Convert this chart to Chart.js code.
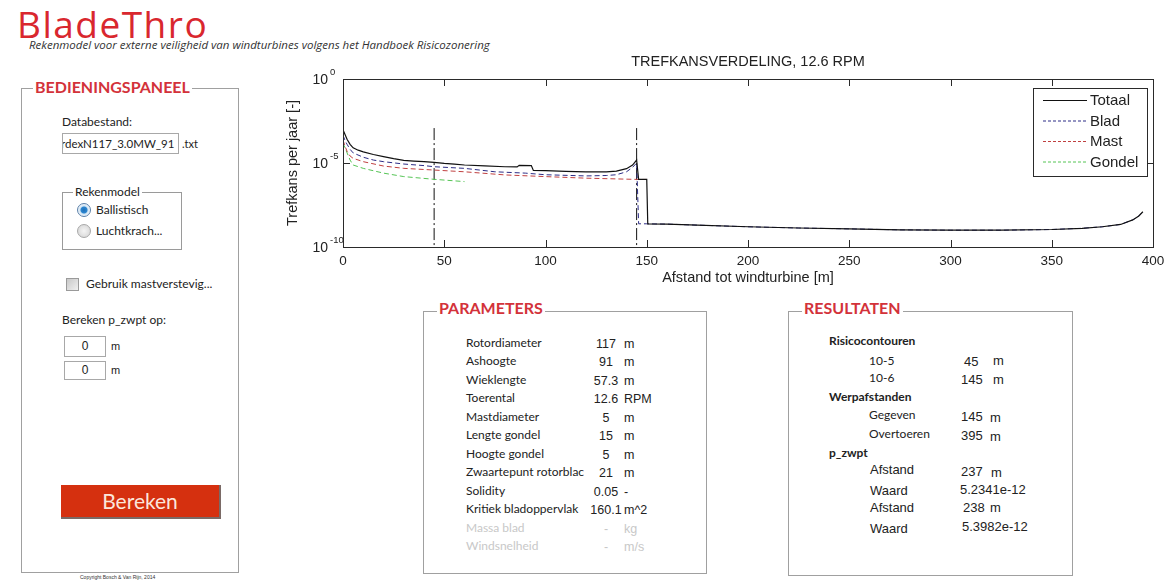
<!DOCTYPE html>
<html>
<head>
<meta charset="utf-8">
<title>BladeThro</title>
<script src="https://cdn.jsdelivr.net/npm/chart.js@4/dist/chart.umd.min.js"></script>
<style>
  body { margin: 0; width: 1175px; height: 580px; background: #fff; position: relative; overflow: hidden;
         font-family: Lato, 'Open Sans', sans-serif; color: #222; }
  .abs { position: absolute; white-space: nowrap; }
  .lbl { font-size: 12px; line-height: 16px; }
  .arial { font-family: 'Liberation Sans', Arial, sans-serif; }
  .panel { position: absolute; border: 1px solid #a0a0a0; }
  .ptitle { position: absolute; background: #fff; color: #d3323a; font-weight: bold; font-size: 16px;
            line-height: 18px; padding: 0 2px; }
  .box { position: absolute; border: 1px solid #a8a8a8; background: #fff; }
  #chartWrap { position: absolute; left: 280px; top: 40px; width: 895px; height: 250px; }
</style>
</head>
<body>

<div class="abs" style="left:17px;top:5px;font-size:37px;line-height:37px;letter-spacing:1.5px;color:#d9272e;font-family:'Open Sans',sans-serif;">BladeThro</div>
<div class="abs" style="left:29px;top:39px;font-size:11.5px;line-height:12px;font-style:italic;font-family:'Open Sans',sans-serif;color:#333;">Rekenmodel voor externe veiligheid van windturbines volgens het Handboek Risicozonering</div>

<!-- Bedieningspaneel -->
<div class="panel" style="left:21px;top:88px;width:216px;height:483px;"></div>
<div class="ptitle" style="left:33px;top:78px;">BEDIENINGSPANEEL</div>
<div class="abs lbl" style="left:62px;top:114px;">Databestand:</div>
<div class="box" style="left:62px;top:133px;width:115px;height:19px;overflow:hidden;">
  <div class="abs lbl" style="left:-2px;top:2px;font-size:11.5px;">rdexN117_3.0MW_91</div>
</div>
<div class="abs" style="left:182px;top:137px;font-size:11px;line-height:14px;">.txt</div>

<div class="box" style="left:62px;top:192px;width:118px;height:56px;border-color:#9a9a9a;"></div>
<div class="abs lbl" style="left:73px;top:184px;background:#fff;padding:0 2px;">Rekenmodel</div>
<div class="abs" style="left:77px;top:203px;width:12px;height:12px;border-radius:50%;border:1px solid #5a7fa8;background:radial-gradient(circle,#1e6fb8 0,#2b86d0 3px,#cfe3f3 4px,#eef5fb 6px);"></div>
<div class="abs lbl" style="left:96px;top:202px;">Ballistisch</div>
<div class="abs" style="left:77px;top:224px;width:12px;height:12px;border-radius:50%;border:1px solid #a8a8a8;background:radial-gradient(circle,#f4f4f4 0,#dcdcdc 6px);"></div>
<div class="abs lbl" style="left:96px;top:223px;">Luchtkrach...</div>

<div class="abs" style="left:66px;top:278px;width:11px;height:11px;border:1px solid #9a9a9a;background:linear-gradient(135deg,#c8c8c8,#f0f0f0);"></div>
<div class="abs lbl" style="left:86px;top:276px;">Gebruik mastverstevig...</div>

<div class="abs lbl" style="left:62px;top:312px;">Bereken p_zwpt op:</div>
<div class="box" style="left:64px;top:336px;width:40px;height:19px;"></div>
<div class="abs arial" style="left:64px;top:339px;width:42px;text-align:center;font-size:12px;line-height:14px;">0</div>
<div class="abs arial" style="left:111px;top:339px;font-size:11px;line-height:14px;">m</div>
<div class="box" style="left:64px;top:361px;width:40px;height:17px;"></div>
<div class="abs arial" style="left:64px;top:363px;width:42px;text-align:center;font-size:12px;line-height:14px;">0</div>
<div class="abs arial" style="left:111px;top:363px;font-size:11px;line-height:14px;">m</div>

<div class="abs" style="left:61px;top:485px;width:158px;height:32px;background:#d5300f;border-right:2px solid #7a6a66;border-bottom:2px solid #7a6a66;color:#fbe6dc;font-size:21px;line-height:32px;text-align:center;">Bereken</div>
<div class="abs arial" style="left:80px;top:573px;font-size:5px;line-height:8px;color:#333;">Copyright Bosch &amp; Van Rijn, 2014</div>

<!-- Parameters -->
<div class="panel" style="left:423px;top:311px;width:282px;height:261px;"></div>
<div class="ptitle" style="left:437px;top:299px;">PARAMETERS</div>
<div id="params"></div>

<!-- Resultaten -->
<div class="panel" style="left:788px;top:311px;width:283px;height:263px;"></div>
<div class="ptitle" style="left:802px;top:299px;">RESULTATEN</div>
<div id="results"></div>

<div id="chartWrap"><canvas id="chart" width="895" height="250"></canvas></div>

<script>
// ---- chart data (distance in m, probability per year) ----
const xTotaal = [0, 1, 2, 3.5, 5, 7.5, 10, 15, 20, 25, 30, 35, 40, 45, 50, 55, 60, 70, 80, 86, 87, 93, 94, 100, 110, 120, 130, 135, 140, 143, 145, 146, 150, 150.5, 160, 175, 200, 225, 250, 275, 300, 325, 350, 365, 375, 384, 390, 393, 395];
const yTotaal = [9.5e-4, 5.0e-4, 2.6e-4, 1.3e-4, 8.0e-5, 5.8e-5, 4.6e-5, 3.2e-5, 2.4e-5, 1.8e-5, 1.45e-5, 1.3e-5, 1.2e-5, 1.1e-5, 9.5e-6, 8.5e-6, 7.6e-6, 6.8e-6, 6.0e-6, 5.8e-6, 7.2e-6, 7.0e-6, 3.6e-6, 3.5e-6, 3.2e-6, 3.0e-6, 3.0e-6, 3.3e-6, 4.6e-6, 7.5e-6, 1.5e-5, 1.05e-6, 1.05e-6, 2.4e-9, 2.3e-9, 2.0e-9, 1.6e-9, 1.35e-9, 1.2e-9, 1.05e-9, 1.0e-9, 1.0e-9, 1.1e-9, 1.3e-9, 1.6e-9, 2.2e-9, 4.1e-9, 7.0e-9, 1.25e-8];

const xBlad = [0, 1, 2, 3.5, 5, 10, 15, 20, 30, 40, 45, 60, 75, 90, 100, 120, 130, 135, 140, 143, 145, 146, 150, 160, 175, 200, 225, 250, 275, 300, 325, 350, 365, 375, 384, 390, 393, 395];
const yBlad = [4.5e-4, 2.2e-4, 1.3e-4, 6.5e-5, 4.0e-5, 2.2e-5, 1.5e-5, 1.2e-5, 8.7e-6, 7.0e-6, 6.0e-6, 4.8e-6, 3.0e-6, 2.5e-6, 2.0e-6, 1.7e-6, 1.8e-6, 2.0e-6, 3.0e-6, 5.5e-6, 1.0e-5, 2.4e-9, 2.4e-9, 2.3e-9, 2.0e-9, 1.6e-9, 1.35e-9, 1.2e-9, 1.05e-9, 1.0e-9, 1.0e-9, 1.1e-9, 1.3e-9, 1.6e-9, 2.2e-9, 4.1e-9, 7.0e-9, 1.25e-8];

const xMast = [0, 1, 2, 3.5, 5, 10, 20, 30, 45, 60, 80, 100, 120, 146, 150];
const yMast = [2.3e-4, 1.0e-4, 5.0e-5, 2.6e-5, 1.9e-5, 1.2e-5, 6.6e-6, 4.8e-6, 3.8e-6, 3.0e-6, 1.95e-6, 1.55e-6, 1.25e-6, 1.05e-6, 1.05e-6];

const xGondel = [0, 1, 2, 3.5, 5, 10, 20, 30, 45, 60];
const yGondel = [1.5e-4, 8.0e-5, 4.0e-5, 1.5e-5, 7.6e-6, 4.8e-6, 2.5e-6, 1.55e-6, 1.07e-6, 7.8e-7];

// risk contours 10-5 and 10-6 (m), drawn as vertical dash-dot lines
const contourX = [45, 145];
const contourRange = [1.2e-3, 1e-10];

const yTicks = [1e-10, 1e-5, 1];
const chartTitle = 'TREFKANSVERDELING, 12.6 RPM';
const xTitle = 'Afstand tot windturbine [m]';
const yTitle = 'Trefkans per jaar [-]';

// ---- side panels ----
const paramLabels = ['Rotordiameter', 'Ashoogte', 'Wieklengte', 'Toerental', 'Mastdiameter', 'Lengte gondel', 'Hoogte gondel', 'Zwaartepunt rotorblac', 'Solidity', 'Kritiek bladoppervlak', 'Massa blad', 'Windsnelheid'];
const paramValues = ['117', '91', '57.3', '12.6', '5', '15', '5', '21', '0.05', '160.1', '-', '-'];
const paramUnits = ['m', 'm', 'm', 'RPM', 'm', 'm', 'm', 'm', '-', 'm^2', 'kg', 'm/s'];

function put(parent, text, left, centerY, style) {
  const d = document.createElement('div');
  d.className = 'abs';
  d.textContent = text;
  d.style.cssText = `left:${left}px;top:${centerY - 8}px;line-height:16px;` + (style || '');
  parent.appendChild(d);
  return d;
}

const params = document.getElementById('params');
paramLabels.forEach((label, i) => {
  const y = 343 + i * 18.45;
  const faded = i >= 10 ? 'color:#c8c8c8;' : '';
  put(params, label, 466, y, 'font-size:12px;' + faded);
  put(params, paramValues[i], 586, y + 1, "font-family:'Liberation Sans',Arial;font-size:12.5px;width:40px;text-align:center;" + faded);
  put(params, paramUnits[i], 624, y + 1, "font-family:'Liberation Sans',Arial;font-size:12.5px;" + faded);
});

const res = document.getElementById('results');
const bold = 'font-size:12px;font-weight:bold;';
const cal = 'font-size:12px;';
const ar = "font-family:'Liberation Sans',Arial;font-size:13px;";
put(res, 'Risicocontouren', 829, 341, bold);
put(res, '10-5', 869, 361, cal);  put(res, '45', 964, 362, ar);  put(res, 'm', 993, 361, ar);
put(res, '10-6', 869, 378, cal);  put(res, '145', 961, 380, ar); put(res, 'm', 993, 380, ar);
put(res, 'Werpafstanden', 829, 397, bold);
put(res, 'Gegeven', 869, 415, cal);    put(res, '145', 961, 417, ar); put(res, 'm', 990, 418, ar);
put(res, 'Overtoeren', 869, 434, cal); put(res, '395', 961, 436, ar); put(res, 'm', 990, 437, ar);
put(res, 'p_zwpt', 829, 453, bold);
put(res, 'Afstand', 870, 470, ar); put(res, '237', 961, 472, ar); put(res, 'm', 991, 473, ar);
put(res, 'Waard', 870, 491, ar);   put(res, '5.2341e-12', 960, 490, ar);
put(res, 'Afstand', 870, 508, ar); put(res, '238', 963, 508, ar); put(res, 'm', 990, 508, ar);
put(res, 'Waard', 870, 529, ar);   put(res, '5.3982e-12', 962, 527, ar);

// ---- chart ----
const pts = (xs, ys) => xs.map((x, i) => ({ x: x, y: ys[i] }));

const datasets = [
  { label: 'Totaal', data: pts(xTotaal, yTotaal), borderColor: '#111', borderWidth: 1.2, inLegend: true },
  { label: 'Blad', data: pts(xBlad, yBlad), borderColor: '#2c2c86', borderWidth: 1, borderDash: [5, 3], inLegend: true },
  { label: 'Mast', data: pts(xMast, yMast), borderColor: '#c04040', borderWidth: 1, borderDash: [5, 3], inLegend: true },
  { label: 'Gondel', data: pts(xGondel, yGondel), borderColor: '#55c455', borderWidth: 1, borderDash: [5, 3], inLegend: true },
];
contourX.forEach(cx => {
  datasets.push({
    label: '', data: contourRange.map(v => ({ x: cx, y: v })),
    borderColor: '#111', borderWidth: 1, borderDash: [12, 3, 2, 3], inLegend: false,
  });
});

const FONT = "'Liberation Sans', Arial, sans-serif";

const matlabAxes = {
  id: 'matlabAxes',
  afterDraw(chart) {
    const { ctx, chartArea: a, scales: { x, y } } = chart;
    ctx.save();
    // axes box + inward ticks
    ctx.strokeStyle = '#2a2a2a';
    ctx.lineWidth = 1;
    ctx.setLineDash([]);
    ctx.strokeRect(a.left + 0.5, a.top + 0.5, a.right - a.left, a.bottom - a.top);
    ctx.beginPath();
    x.ticks.forEach(t => {
      const px = Math.round(x.getPixelForValue(t.value)) + 0.5;
      ctx.moveTo(px, a.bottom); ctx.lineTo(px, a.bottom - 7);
      ctx.moveTo(px, a.top); ctx.lineTo(px, a.top + 7);
    });
    y.ticks.forEach(t => {
      const py = Math.round(y.getPixelForValue(t.value)) + 0.5;
      ctx.moveTo(a.left, py); ctx.lineTo(a.left + 7, py);
      ctx.moveTo(a.right, py); ctx.lineTo(a.right - 7, py);
    });
    ctx.stroke();

    ctx.fillStyle = '#222';
    ctx.textBaseline = 'middle';
    // x tick labels
    ctx.font = '13.5px ' + FONT;
    ctx.textAlign = 'center';
    x.ticks.forEach(t => ctx.fillText(String(t.value), x.getPixelForValue(t.value), a.bottom + 14));
    // y tick labels 10^n
    y.ticks.forEach(t => {
      const py = y.getPixelForValue(t.value);
      ctx.font = '14px ' + FONT;
      ctx.textAlign = 'right';
      ctx.fillText('10', a.left - 15, py + 1);
      ctx.font = '9.5px ' + FONT;
      ctx.textAlign = 'left';
      ctx.fillText(String(Math.round(Math.log10(t.value))), a.left - 13, py - 7);
    });
    // titles
    const cx = (a.left + a.right) / 2;
    ctx.font = '14.5px ' + FONT;
    ctx.textAlign = 'center';
    ctx.fillText(chartTitle, cx, 22);
    ctx.fillText(xTitle, cx, a.bottom + 31);
    ctx.save();
    ctx.translate(13, (a.top + a.bottom) / 2);
    ctx.rotate(-Math.PI / 2);
    ctx.fillText(yTitle, 0, 0);
    ctx.restore();

    // legend box
    const items = chart.data.datasets.filter(d => d.inLegend);
    const lx = 753, ly = 48, lw = 114, lh = 88;
    ctx.fillStyle = '#fff';
    ctx.fillRect(lx, ly, lw, lh);
    ctx.strokeStyle = '#2a2a2a';
    ctx.strokeRect(lx + 0.5, ly + 0.5, lw, lh);
    ctx.font = '15px ' + FONT;
    ctx.textAlign = 'left';
    items.forEach((d, i) => {
      const ry = ly + 12 + i * 20.5;
      ctx.strokeStyle = d.borderColor;
      ctx.lineWidth = d.borderWidth;
      ctx.setLineDash(d.borderDash ? [3, 2] : []);
      ctx.beginPath();
      ctx.moveTo(lx + 10, ry + 0.5); ctx.lineTo(lx + 54, ry + 0.5);
      ctx.stroke();
      ctx.fillStyle = '#222';
      ctx.fillText(d.label, lx + 57, ry + 1);
    });
    ctx.restore();
  }
};

const ctx = document.getElementById('chart').getContext('2d');
new Chart(ctx, {
  type: 'line',
  data: { datasets: datasets },
  options: {
    responsive: false,
    animation: false,
    layout: { padding: { top: 39, right: 22, left: 0, bottom: 0 } },
    elements: { point: { radius: 0 }, line: { tension: 0, fill: false } },
    plugins: { legend: { display: false }, title: { display: false }, tooltip: { enabled: false } },
    scales: {
      x: {
        type: 'linear', min: 0, max: 400,
        ticks: { display: false, stepSize: 50 },
        grid: { display: false, drawTicks: false },
        border: { display: false },
        afterFit: s => { s.height = 43; },
      },
      y: {
        type: 'logarithmic', min: 1e-10, max: 1,
        ticks: { display: false },
        grid: { display: false, drawTicks: false },
        border: { display: false },
        afterBuildTicks: s => { s.ticks = yTicks.map(v => ({ value: v })); },
        afterFit: s => { s.width = 63; },
      },
    },
  },
  plugins: [matlabAxes],
});
</script>
</body>
</html>
